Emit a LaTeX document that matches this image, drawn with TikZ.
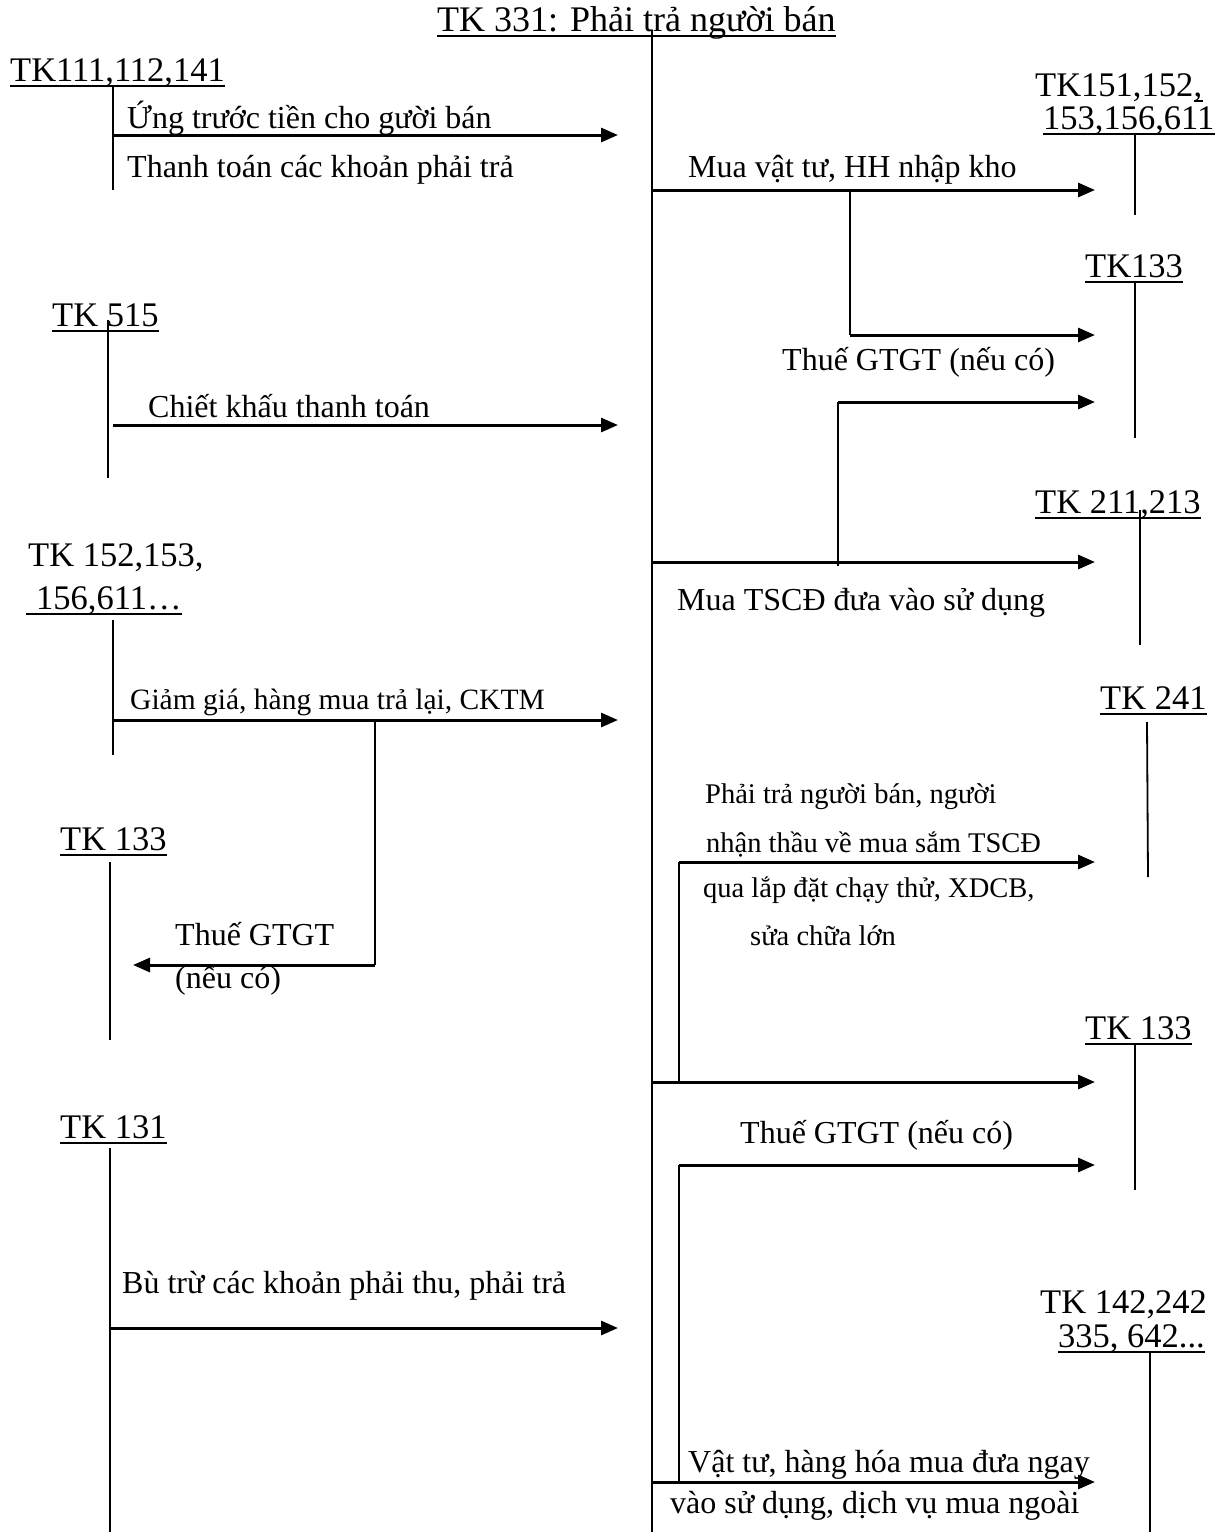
\documentclass[tikz,border=0pt]{standalone}
\usepackage{fontspec}
\setmainfont{Liberation Serif}
\usetikzlibrary{arrows.meta}
\newcommand\acctrule[1]{\draw[uline] ([yshift=-5pt]#1.base west) -- ([yshift=-5pt]#1.base east);}
\begin{document}
\begin{tikzpicture}[x=1pt,y=-1pt,
  acct/.style={inner sep=0pt, anchor=base west, font=\fontsize{34.5}{40}\selectfont},
  lbl/.style={inner sep=0pt, anchor=base west, font=\fontsize{32}{38}\selectfont},
  lblsm/.style={inner sep=0pt, anchor=base west, font=\fontsize{29.5}{34}\selectfont},
  lblxs/.style={inner sep=0pt, anchor=base west, font=\fontsize{28.5}{34}\selectfont},
  tline/.style={line width=1.8pt},
  branch/.style={line width=2pt},
  flow/.style={line width=3pt, -{Triangle[length=17pt,width=14pt]}},
  uline/.style={line width=1.8pt}
]
\useasboundingbox (0,0) rectangle (1225,1532);

% central account TK 331
\node[acct, font=\fontsize{36}{42}\selectfont] (title) at (437,31) {TK 331: Phải trả người bán};
\acctrule{title}
\coordinate (m0) at (652,30);
\coordinate (m1) at (652,1532);
\draw[tline] (m0) -- (m1);

% ---------- left-hand accounts ----------
\node[acct] (tk111) at (10,81) {TK111,112,141};
\acctrule{tk111}
\coordinate (a1t) at (113,86); \coordinate (a1b) at (113,190);
\draw[tline] (a1t) -- (a1b);

\node[acct] (tk515) at (52,326) {TK 515};
\acctrule{tk515}
\coordinate (a2t) at (108,320); \coordinate (a2b) at (108,478);
\draw[tline] (a2t) -- (a2b);

\node[acct] (tk152a) at (28,566) {TK 152,153,};
\node[acct] (tk152b) at (36,609) {156,611…};
\draw[uline] (26,614) -- ([yshift=-5pt]tk152b.base east);
\coordinate (a3t) at (113,620); \coordinate (a3b) at (113,755);
\draw[tline] (a3t) -- (a3b);

\node[acct] (tk133l) at (60,850) {TK 133};
\acctrule{tk133l}
\coordinate (a4t) at (110,862); \coordinate (a4b) at (110,1040);
\draw[tline] (a4t) -- (a4b);

\node[acct] (tk131) at (60,1138) {TK 131};
\acctrule{tk131}
\coordinate (a5t) at (110,1148); \coordinate (a5b) at (110,1532);
\draw[tline] (a5t) -- (a5b);

% ---------- right-hand accounts ----------
\node[acct] (tk151a) at (1035,96) {TK151,152};
\node[acct, anchor=base west] (tk151c) at (tk151a.base east) {,};
\acctrule{tk151c}
\node[acct] (tk151b) at (1043,129) {153,156,611};
\acctrule{tk151b}
\coordinate (b1t) at (1135,134); \coordinate (b1b) at (1135,215);
\draw[tline] (b1t) -- (b1b);

\node[acct] (tk133a) at (1085,277) {TK133};
\acctrule{tk133a}
\coordinate (b2t) at (1135,282); \coordinate (b2b) at (1135,438);
\draw[tline] (b2t) -- (b2b);

\node[acct] (tk211) at (1035,513) {TK 211,213};
\acctrule{tk211}
\coordinate (b3t) at (1140,510); \coordinate (b3b) at (1140,645);
\draw[tline] (b3t) -- (b3b);

\node[acct] (tk241) at (1100,709) {TK 241};
\acctrule{tk241}
\coordinate (b4t) at (1147,722); \coordinate (b4b) at (1148,877);
\draw[tline] (b4t) -- (b4b);

\node[acct] (tk133b) at (1085,1039) {TK 133};
\acctrule{tk133b}
\coordinate (b5t) at (1135,1044); \coordinate (b5b) at (1135,1190);
\draw[tline] (b5t) -- (b5b);

\node[acct] (tk142a) at (1040,1313) {TK 142,242};
\node[acct] (tk142b) at (1058,1347) {335, 642...};
\acctrule{tk142b}
\coordinate (b6t) at (1150,1352); \coordinate (b6b) at (1150,1532);
\draw[tline] (b6t) -- (b6b);

% ---------- flows into TK 331 (left side) ----------
\coordinate (f1s) at (113,135); \coordinate (f1e) at (618,135);
\draw[flow] (f1s) -- (f1e);
\node[lbl] (l1a) at (127,128) {Ứng trước tiền cho gười bán};
\node[lbl] (l1b) at (127,177) {Thanh toán các khoản phải trả};

\coordinate (f5s) at (113,425); \coordinate (f5e) at (618,425);
\draw[flow] (f5s) -- (f5e);
\node[lbl] (l5) at (148,417) {Chiết khấu thanh toán};

\coordinate (f7s) at (113,720); \coordinate (f7e) at (618,720);
\draw[flow] (f7s) -- (f7e);
\node[lblsm] (l7) at (130,709) {Giảm giá, hàng mua trả lại, CKTM};

\coordinate (f8s) at (375,720); \coordinate (f8k) at (375,965); \coordinate (f8e) at (133,965);
\draw[branch] (f8s) -- (f8k);
\draw[flow] (f8k) -- (f8e);
\node[lbl] (l8a) at (175,945) {Thuế GTGT};
\node[lbl] (l8b) at (175,988) {(nếu có)};

\coordinate (f12s) at (110,1328); \coordinate (f12e) at (618,1328);
\draw[flow] (f12s) -- (f12e);
\node[lbl] (l12) at (122,1293) {Bù trừ các khoản phải thu, phải trả};

% ---------- flows out of TK 331 (right side) ----------
\coordinate (f2s) at (652,190); \coordinate (f2e) at (1095,190);
\draw[flow] (f2s) -- (f2e);
\node[lbl] (l2) at (688,177) {Mua vật tư, HH nhập kho};

\coordinate (f3s) at (850,190); \coordinate (f3k) at (850,335); \coordinate (f3e) at (1095,335);
\draw[branch] (f3s) -- (f3k);
\draw[flow] (f3k) -- (f3e);
\node[lbl] (l3) at (782,370) {Thuế GTGT (nếu có)};

\coordinate (f4s) at (838,566); \coordinate (f4k) at (838,402); \coordinate (f4e) at (1095,402);
\draw[branch] (f4s) -- (f4k);
\draw[flow] (f4k) -- (f4e);

\coordinate (f6s) at (652,562); \coordinate (f6e) at (1095,562);
\draw[flow] (f6s) -- (f6e);
\node[lbl] (l6) at (677,610) {Mua TSCĐ đưa vào sử dụng};

\coordinate (f9s) at (679,1082); \coordinate (f9k) at (679,862); \coordinate (f9e) at (1095,862);
\draw[branch] (f9s) -- (f9k);
\draw[flow] (f9k) -- (f9e);
\node[lblxs] (l9a) at (705,803) {Phải trả người bán, người};
\node[lblxs] (l9b) at (706,852) {nhận thầu về mua sắm TSCĐ};
\node[lblxs] (l9c) at (703,897) {qua lắp đặt chạy thử, XDCB,};
\node[lblxs] (l9d) at (750,945) {sửa chữa lớn};

\coordinate (f10s) at (652,1082); \coordinate (f10e) at (1095,1082);
\draw[flow] (f10s) -- (f10e);
\node[lbl] (l10) at (740,1143) {Thuế GTGT (nếu có)};

\coordinate (f11s) at (679,1482); \coordinate (f11k) at (679,1165); \coordinate (f11e) at (1095,1165);
\draw[branch] (f11s) -- (f11k);
\draw[flow] (f11k) -- (f11e);

\coordinate (f13s) at (652,1482); \coordinate (f13e) at (1095,1482);
\draw[flow] (f13s) -- (f13e);
\node[lbl] (l13a) at (688,1472) {Vật tư, hàng hóa mua đưa ngay};
\node[lbl] (l13b) at (670,1513) {vào sử dụng, dịch vụ mua ngoài};

\end{tikzpicture}
\end{document}
